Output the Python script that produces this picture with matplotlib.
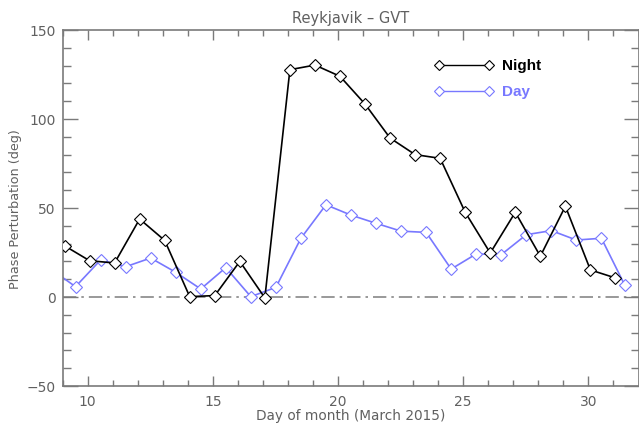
import matplotlib
matplotlib.use("Agg")
import matplotlib.pyplot as plt
from matplotlib.ticker import MultipleLocator

# Nightside / dayside phase perturbation, Reykjavik -> GVT path, March 2015
night_day = [9.08, 10.08, 11.08, 12.08, 13.08, 14.08, 15.08, 16.08, 17.08, 18.08,
             19.08, 20.08, 21.08, 22.08, 23.08, 24.08, 25.08, 26.08, 27.08, 28.08,
             29.08, 30.08, 31.08]
night_val = [28.8, 20.4, 19.1, 43.8, 31.8, 0.2, 0.8, 20.0, -0.5, 127.7,
             130.3, 124.0, 108.4, 89.3, 80.0, 77.9, 47.6, 24.7, 47.6, 22.9,
             51.0, 15.2, 10.7]

day_day = [8.52, 9.52, 10.52, 11.52, 12.52, 13.52, 14.52, 15.52, 16.52, 17.52,
           18.52, 19.52, 20.52, 21.52, 22.52, 23.52, 24.52, 25.52, 26.52, 27.52,
           28.52, 29.52, 30.52, 31.45]
day_val = [15.8, 5.8, 20.8, 17.0, 21.9, 13.9, 4.5, 16.5, 0.2, 5.4,
           33.0, 51.8, 46.0, 41.4, 37.0, 36.3, 15.7, 24.2, 23.8, 35.0,
           37.3, 32.0, 33.0, 6.7]

x_range = (9, 32)
y_range = (-50, 150)

title = "Reykjavik \u2013 GVT"
xlabel = "Day of month (March 2015)"
ylabel = "Phase Perturbation (deg)"

night_color = "black"
day_color = "#7878ff"
axis_grey = "#7a7a7a"
text_grey = "#606060"

fig = plt.figure(figsize=(6.39, 4.27), dpi=100)
W, H = 639, 427
ax = fig.add_axes([62.5 / W, (H - 387) / H, (638.5 - 62.5) / W, (387 - 31) / H])

ax.axhline(0, color="#888888", lw=1.2, ls=(0, (8, 3, 1.5, 3)), zorder=1)

ax.plot(night_day, night_val, color=night_color, lw=1.2, marker="D", ms=6,
        mfc="white", mec=night_color, mew=0.8, zorder=3)
ax.plot(day_day, day_val, color=day_color, lw=1.2, marker="D", ms=6,
        mfc="white", mec=day_color, mew=0.8, zorder=2)

ax.set_xlim(*x_range)
ax.set_ylim(*y_range)
ax.xaxis.set_major_locator(MultipleLocator(5))
ax.xaxis.set_minor_locator(MultipleLocator(1))
ax.yaxis.set_major_locator(MultipleLocator(50))
ax.yaxis.set_minor_locator(MultipleLocator(10))

ax.tick_params(which="both", direction="in", top=True, right=True,
               color=axis_grey, labelcolor=text_grey, labelsize=10, width=1)
ax.tick_params(axis="x", which="major", length=7, pad=6)
ax.tick_params(axis="x", which="minor", length=4)
ax.tick_params(axis="y", which="major", length=11, pad=5)
ax.tick_params(axis="y", which="minor", length=6)
for s in ax.spines.values():
    s.set_color(axis_grey)
    s.set_linewidth(1.2)

ax.set_title(title, color=text_grey, fontsize=10.5, pad=6)
ax.set_xlabel(xlabel, color=text_grey, fontsize=9.8, labelpad=0)
ax.set_ylabel(ylabel, color=text_grey, fontsize=9.2, labelpad=3)

# legend drawn by hand, in figure pixel coordinates
def fx(px):
    return px / W

def fy(py):
    return (H - py) / H

for ypx, col, name in [(65.7, night_color, "Night"), (92.3, day_color, "Day")]:
    fig.add_artist(plt.Line2D([fx(439), fx(489)], [fy(ypx), fy(ypx)], color=col,
                              lw=1.0, marker="D", ms=5.5, mfc="white", mec=col, mew=0.8))
    fig.text(fx(502), fy(ypx), name, color=col, fontsize=11, fontweight="bold",
             family="Liberation Sans", va="center", ha="left")

fig.savefig("out.png", dpi=100)
